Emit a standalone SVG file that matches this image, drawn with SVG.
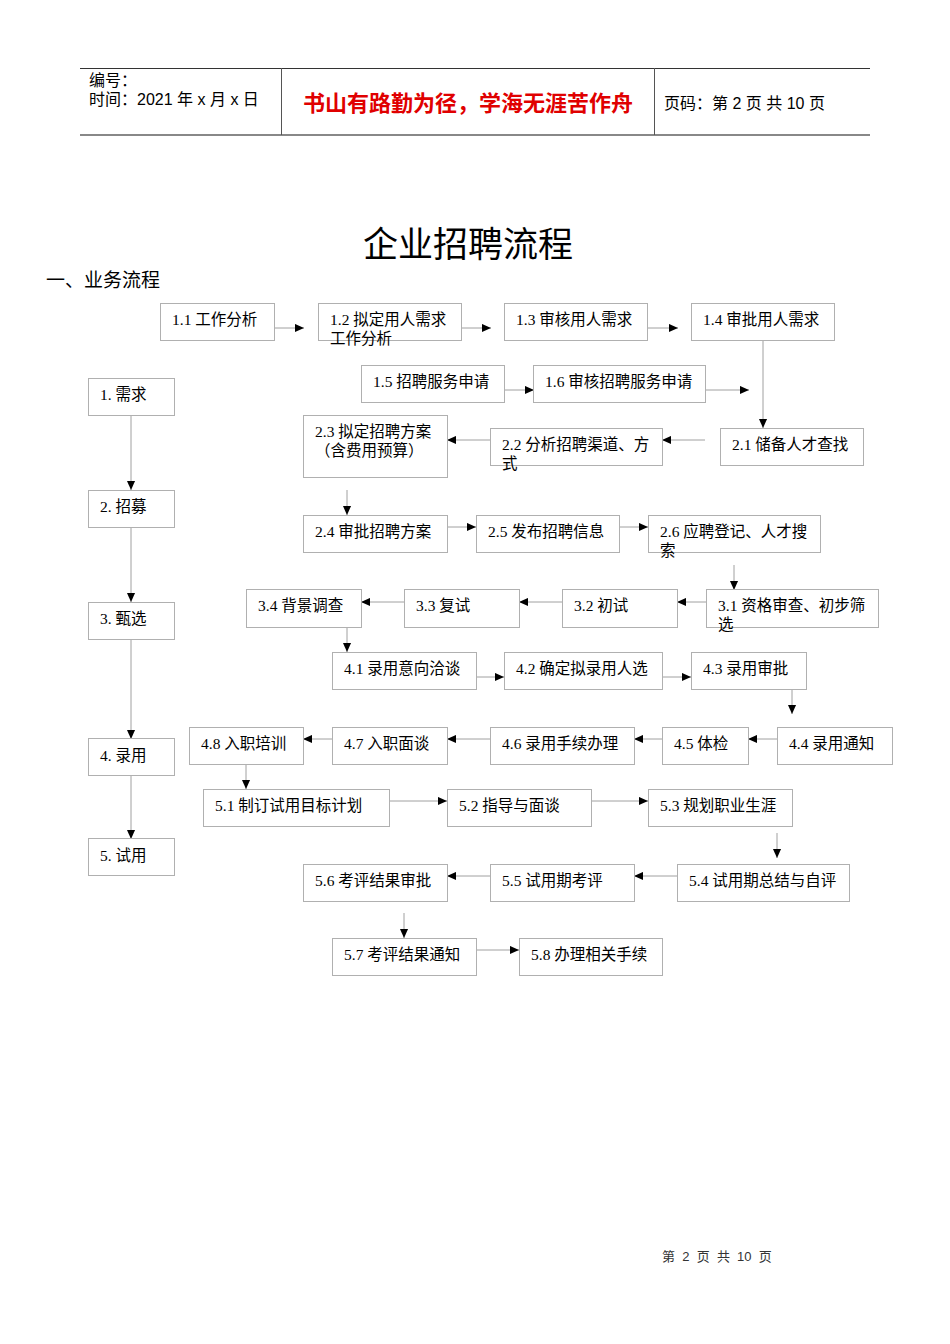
<svg xmlns="http://www.w3.org/2000/svg" width="950" height="1344" viewBox="0 0 950 1344">
<style>
.bx{fill:#fff;stroke:#b0b0b0;stroke-width:1}
.t{font-family:"Liberation Serif","Noto Sans CJK SC",serif;font-size:15.5px;fill:#000}
.c{stroke:#a0a0a0;stroke-width:1;fill:none;marker-end:url(#ah)}
.h{font-family:"Liberation Sans","Noto Sans CJK SC",sans-serif;font-size:16px;fill:#000}
</style>
<defs>
<marker id="ah" viewBox="0 0 10 10" refX="10" refY="5" markerWidth="9" markerHeight="9" markerUnits="userSpaceOnUse" orient="auto"><path d="M0,0.5 L10,5 L0,9.5 z" fill="#000"/></marker>
</defs>
<rect width="950" height="1344" fill="#fff"/>
<g id="header">
<line x1="80" y1="68.5" x2="870" y2="68.5" stroke="#333" stroke-width="1"/>
<line x1="80" y1="135" x2="870" y2="135" stroke="#888" stroke-width="2"/>
<line x1="281.5" y1="68" x2="281.5" y2="135" stroke="#555" stroke-width="1"/>
<line x1="654.5" y1="68" x2="654.5" y2="135" stroke="#555" stroke-width="1"/>
<text class="h" x="89" y="86">编号：</text>
<text class="h" x="89" y="105">时间：2021 年 x 月 x 日</text>
<text x="468" y="111" text-anchor="middle" font-family="Liberation Sans,'Noto Sans CJK SC',sans-serif" font-size="22" font-weight="bold" fill="#e00000">书山有路勤为径，学海无涯苦作舟</text>
<text class="h" x="664" y="109">页码：第 2 页  共 10 页</text>
</g>
<text x="468" y="257" text-anchor="middle" font-family="Liberation Serif,'Noto Sans CJK SC',serif" font-size="35" fill="#000">企业招聘流程</text>
<text x="46" y="287" font-family="Liberation Serif,'Noto Sans CJK SC',serif" font-size="19" fill="#000">一、业务流程</text>

<g id="connectors">
<line class="c" x1="131" y1="415" x2="131" y2="490"/>
<line class="c" x1="131" y1="527" x2="131" y2="602"/>
<line class="c" x1="131" y1="639" x2="131" y2="739"/>
<line class="c" x1="131" y1="775" x2="131" y2="839"/>
<line class="c" x1="275" y1="328" x2="304" y2="328"/>
<line class="c" x1="462" y1="328" x2="491" y2="328"/>
<line class="c" x1="648" y1="328" x2="678" y2="328"/>
<line class="c" x1="504" y1="390" x2="534" y2="390"/>
<line class="c" x1="705" y1="390" x2="749" y2="390"/>
<line class="c" x1="763" y1="340" x2="763" y2="428"/>
<line class="c" x1="705" y1="440" x2="662" y2="440"/>
<line class="c" x1="490" y1="440" x2="447" y2="440"/>
<line class="c" x1="347" y1="490" x2="347" y2="515"/>
<line class="c" x1="447" y1="527" x2="476" y2="527"/>
<line class="c" x1="619" y1="527" x2="648" y2="527"/>
<line class="c" x1="734" y1="565" x2="734" y2="590"/>
<line class="c" x1="706" y1="602" x2="677" y2="602"/>
<line class="c" x1="562" y1="602" x2="519" y2="602"/>
<line class="c" x1="404" y1="602" x2="361" y2="602"/>
<line class="c" x1="347" y1="627" x2="347" y2="652"/>
<line class="c" x1="476" y1="677" x2="504" y2="677"/>
<line class="c" x1="662" y1="677" x2="691" y2="677"/>
<line class="c" x1="792" y1="689" x2="792" y2="714"/>
<line class="c" x1="777" y1="739" x2="748" y2="739"/>
<line class="c" x1="662" y1="739" x2="634" y2="739"/>
<line class="c" x1="490" y1="739" x2="447" y2="739"/>
<line class="c" x1="332" y1="739" x2="303" y2="739"/>
<line class="c" x1="246" y1="764" x2="246" y2="789"/>
<line class="c" x1="389" y1="801" x2="447" y2="801"/>
<line class="c" x1="591" y1="801" x2="648" y2="801"/>
<line class="c" x1="777" y1="833" x2="777" y2="858"/>
<line class="c" x1="677" y1="876" x2="634" y2="876"/>
<line class="c" x1="490" y1="876" x2="447" y2="876"/>
<line class="c" x1="404" y1="913" x2="404" y2="938"/>
<line class="c" x1="476" y1="950" x2="519" y2="950"/>
</g>

<g id="s1"><rect class="bx" x="88.5" y="378.5" width="86" height="37"/><text class="t" x="100" y="400">1. 需求</text></g>
<g id="s2"><rect class="bx" x="88.5" y="490.5" width="86" height="37"/><text class="t" x="100" y="512">2. 招募</text></g>
<g id="s3"><rect class="bx" x="88.5" y="602.5" width="86" height="37"/><text class="t" x="100" y="624">3. 甄选</text></g>
<g id="s4"><rect class="bx" x="88.5" y="738.5" width="86" height="37"/><text class="t" x="100" y="761">4. 录用</text></g>
<g id="s5"><rect class="bx" x="88.5" y="838.5" width="86" height="37"/><text class="t" x="100" y="861">5. 试用</text></g>

<g id="n11"><rect class="bx" x="160.5" y="303.5" width="114" height="37"/><text class="t" x="172" y="325">1.1 工作分析</text></g>
<g id="n12"><rect class="bx" x="318.5" y="303.5" width="143" height="37"/><text class="t" x="330" y="325">1.2 拟定用人需求</text><text class="t" x="330" y="344">工作分析</text></g>
<g id="n13"><rect class="bx" x="504.5" y="303.5" width="143" height="37"/><text class="t" x="516" y="325">1.3 审核用人需求</text></g>
<g id="n14"><rect class="bx" x="691.5" y="303.5" width="143" height="37"/><text class="t" x="703" y="325">1.4 审批用人需求</text></g>
<g id="n15"><rect class="bx" x="361.5" y="365.5" width="143" height="37"/><text class="t" x="373" y="387">1.5 招聘服务申请</text></g>
<g id="n16"><rect class="bx" x="533.5" y="365.5" width="172" height="37"/><text class="t" x="545" y="387">1.6 审核招聘服务申请</text></g>

<g id="n21"><rect class="bx" x="720.5" y="428.5" width="143" height="37"/><text class="t" x="732" y="450">2.1 储备人才查找</text></g>
<g id="n22"><rect class="bx" x="490.5" y="428.5" width="172" height="37"/><text class="t" x="502" y="450">2.2 分析招聘渠道、方</text><text class="t" x="502" y="469">式</text></g>
<g id="n23"><rect class="bx" x="303.5" y="415.5" width="144" height="62"/><text class="t" x="315" y="437">2.3 拟定招聘方案</text><text class="t" x="315" y="456">（含费用预算）</text></g>
<g id="n24"><rect class="bx" x="303.5" y="515.5" width="144" height="37"/><text class="t" x="315" y="537">2.4 审批招聘方案</text></g>
<g id="n25"><rect class="bx" x="476.5" y="515.5" width="143" height="37"/><text class="t" x="488" y="537">2.5 发布招聘信息</text></g>
<g id="n26"><rect class="bx" x="648.5" y="515.5" width="172" height="37"/><text class="t" x="660" y="537">2.6 应聘登记、人才搜</text><text class="t" x="660" y="556">索</text></g>

<g id="n31"><rect class="bx" x="706.5" y="589.5" width="172" height="38"/><text class="t" x="718" y="611">3.1 资格审查、初步筛</text><text class="t" x="718" y="630">选</text></g>
<g id="n32"><rect class="bx" x="562.5" y="589.5" width="115" height="38"/><text class="t" x="574" y="611">3.2 初试</text></g>
<g id="n33"><rect class="bx" x="404.5" y="589.5" width="115" height="38"/><text class="t" x="416" y="611">3.3 复试</text></g>
<g id="n34"><rect class="bx" x="246.5" y="589.5" width="115" height="38"/><text class="t" x="258" y="611">3.4 背景调查</text></g>

<g id="n41"><rect class="bx" x="332.5" y="652.5" width="144" height="37"/><text class="t" x="344" y="674">4.1 录用意向洽谈</text></g>
<g id="n42"><rect class="bx" x="504.5" y="652.5" width="158" height="37"/><text class="t" x="516" y="674">4.2 确定拟录用人选</text></g>
<g id="n43"><rect class="bx" x="691.5" y="652.5" width="115" height="37"/><text class="t" x="703" y="674">4.3 录用审批</text></g>
<g id="n44"><rect class="bx" x="777.5" y="727.5" width="115" height="37"/><text class="t" x="789" y="749">4.4 录用通知</text></g>
<g id="n45"><rect class="bx" x="662.5" y="727.5" width="86" height="37"/><text class="t" x="674" y="749">4.5 体检</text></g>
<g id="n46"><rect class="bx" x="490.5" y="727.5" width="144" height="37"/><text class="t" x="502" y="749">4.6 录用手续办理</text></g>
<g id="n47"><rect class="bx" x="332.5" y="727.5" width="115" height="37"/><text class="t" x="344" y="749">4.7 入职面谈</text></g>
<g id="n48"><rect class="bx" x="189.5" y="727.5" width="114" height="37"/><text class="t" x="201" y="749">4.8 入职培训</text></g>

<g id="n51"><rect class="bx" x="203.5" y="789.5" width="186" height="37"/><text class="t" x="215" y="811">5.1 制订试用目标计划</text></g>
<g id="n52"><rect class="bx" x="447.5" y="789.5" width="144" height="37"/><text class="t" x="459" y="811">5.2 指导与面谈</text></g>
<g id="n53"><rect class="bx" x="648.5" y="789.5" width="144" height="37"/><text class="t" x="660" y="811">5.3 规划职业生涯</text></g>
<g id="n54"><rect class="bx" x="677.5" y="864.5" width="172" height="37"/><text class="t" x="689" y="886">5.4 试用期总结与自评</text></g>
<g id="n55"><rect class="bx" x="490.5" y="864.5" width="144" height="37"/><text class="t" x="502" y="886">5.5 试用期考评</text></g>
<g id="n56"><rect class="bx" x="303.5" y="864.5" width="144" height="37"/><text class="t" x="315" y="886">5.6 考评结果审批</text></g>
<g id="n57"><rect class="bx" x="332.5" y="938.5" width="144" height="37"/><text class="t" x="344" y="960">5.7 考评结果通知</text></g>
<g id="n58"><rect class="bx" x="519.5" y="938.5" width="143" height="37"/><text class="t" x="531" y="960">5.8 办理相关手续</text></g>

<text x="662" y="1261" font-family="Liberation Sans,'Noto Sans CJK SC',sans-serif" font-size="13" fill="#333" xml:space="preserve">第  2  页  共  10  页</text>
</svg>
